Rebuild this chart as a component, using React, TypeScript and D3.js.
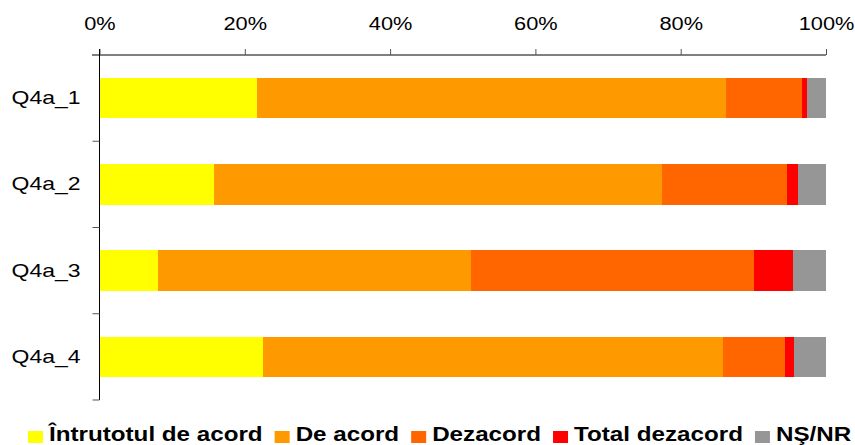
import React, { useEffect, useRef } from 'react';
import * as d3 from 'd3';

const categories = ['Q4a_1', 'Q4a_2', 'Q4a_3', 'Q4a_4'];
const seriesNames = ['Întrutotul de acord', 'De acord', 'Dezacord', 'Total dezacord', 'NŞ/NR'];
const seriesColors = ['#FFFF00', '#FF9900', '#FF6600', '#FF0000', '#969696'];

// percentages per category
const intrutotul = [21.7, 15.8, 8.0, 22.5];
const deAcord = [64.5, 61.6, 43.1, 63.3];
const dezacord = [10.5, 17.2, 39.0, 8.6];
const totalDezacord = [0.7, 1.5, 5.4, 1.2];
const nsnr = [2.6, 3.9, 4.5, 4.4];

const tickValues = [0, 0.2, 0.4, 0.6, 0.8, 1];

const FONT = 'Arial, "Liberation Sans", sans-serif';
const STRETCH = 1.21; // text in the original is drawn a bit wide

const App = () => {
  const svgRef = useRef<SVGSVGElement>(null);

  useEffect(() => {
    const svg = d3.select(svgRef.current);
    svg.selectAll('*').remove();

    const left = 99.5;
    const right = 826;
    const top = 55;
    const bottom = 400;

    const series = [intrutotul, deAcord, dezacord, totalDezacord, nsnr];
    const rows = categories.map((c, i) => {
      const total = d3.sum(series, s => s[i]);
      const row: any = { cat: c };
      seriesNames.forEach((n, k) => (row[n] = series[k][i] / total));
      return row;
    });

    const stacked = d3.stack().keys(seriesNames)(rows);

    const x = d3.scaleLinear().domain([0, 1]).range([left, right]);
    const y = d3.scaleBand()
      .domain(categories)
      .range([top, bottom])
      .paddingInner(0.53)
      .paddingOuter(0.265);

    // bars
    svg.append('g')
      .selectAll('g')
      .data(stacked)
      .join('g')
      .attr('fill', (d, i) => seriesColors[i])
      .selectAll('rect')
      .data(d => d)
      .join('rect')
      .attr('x', d => x(d[0]))
      .attr('y', d => y(d.data.cat as string)!)
      .attr('width', d => x(d[1]) - x(d[0]))
      .attr('height', y.bandwidth())
      .attr('shape-rendering', 'crispEdges');

    // top axis
    const xAxis = svg.append('g')
      .attr('transform', `translate(0,${top})`)
      .call(
        d3.axisTop(x)
          .tickValues(tickValues)
          .tickFormat(d => `${Math.round(+d * 100)}%`)
          .tickSizeInner(6)
          .tickSizeOuter(0)
          .tickPadding(19)
      );
    xAxis.select('.domain').attr('stroke', '#000').attr('d', `M${left - 7.5},0H${right}`);
    xAxis.selectAll('.tick line').attr('stroke', '#555');
    xAxis.selectAll('.tick text')
      .attr('fill', '#000')
      .attr('transform', `scale(${STRETCH},1)`)
      .style('font-family', FONT)
      .style('font-size', '18px');

    // left axis
    const yAxis = svg.append('g')
      .attr('transform', `translate(${left},0)`)
      .call(d3.axisLeft(y).tickSize(0).tickPadding(0));
    yAxis.select('.domain').attr('stroke', '#000').attr('d', `M0,${top - 6}V${bottom}`);
    yAxis.selectAll('.tick text')
      .attr('fill', '#000')
      .attr('x', -19 / STRETCH)
      .attr('transform', `scale(${STRETCH},1)`)
      .style('font-family', FONT)
      .style('font-size', '19px');

    // category boundary ticks
    const bounds = d3.range(categories.length + 1).map(i => top + i * y.step());
    yAxis.append('g')
      .selectAll('line')
      .data(bounds.slice(1))
      .join('line')
      .attr('x1', -7)
      .attr('x2', 0)
      .attr('y1', d => d)
      .attr('y2', d => d)
      .attr('stroke', '#555');

    // legend
    const legend = svg.append('g').attr('transform', `translate(28,0)`);
    let cx = 0;
    seriesNames.forEach((name, i) => {
      legend.append('rect')
        .attr('x', cx)
        .attr('y', 431)
        .attr('width', 15)
        .attr('height', 12)
        .attr('fill', seriesColors[i]);
      const t = legend.append('text')
        .attr('transform', `translate(${cx + 21},441) scale(${STRETCH},1)`)
        .attr('fill', '#000')
        .style('font-family', FONT)
        .style('font-size', '20px')
        .style('font-weight', 'bold')
        .text(name);
      const w = (t.node() as SVGTextElement).getComputedTextLength() * STRETCH;
      cx += 21 + w + 12;
    });
  }, []);

  return (
    <svg
      ref={svgRef}
      width={855}
      height={445}
      style={{ position: 'absolute', left: 0, top: 0, background: '#fff' }}
    ></svg>
  );
};

export default App;
